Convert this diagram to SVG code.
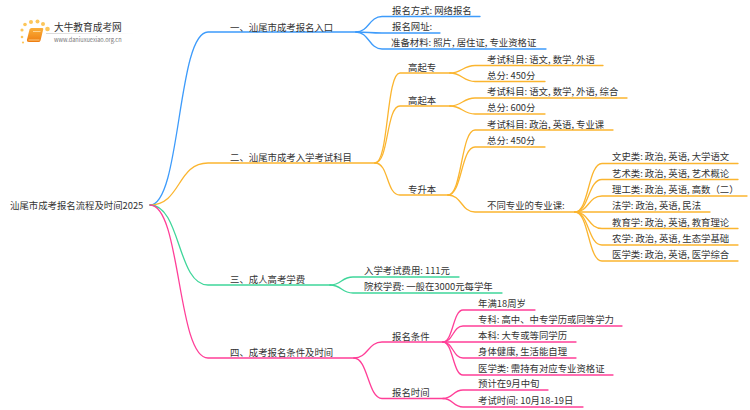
<svg xmlns="http://www.w3.org/2000/svg" width="750" height="410" viewBox="0 0 750 410">
<defs>
<linearGradient id="fade" x1="0" x2="1" y1="0" y2="0"><stop offset="0" stop-color="#d8d8d8"/><stop offset="1" stop-color="#d8d8d8" stop-opacity="0"/></linearGradient>
<linearGradient id="bookfill" x1="0" x2="0" y1="0" y2="1"><stop offset="0" stop-color="#fbb03a"/><stop offset="1" stop-color="#ee7d10"/></linearGradient>
</defs>
<style>
text{font-family:"Noto Sans CJK SC","Noto Sans",sans-serif;font-size:9.4px;fill:#333}
.c path{fill:none;stroke-width:1.3;stroke-linecap:round}
.b{stroke:#3d9bfb}.o{stroke:#fbb52f}.g{stroke:#3fd69a}.p{stroke:#ff3f98}
.dot{fill:#fcc65a}
</style>
<rect width="750" height="410" fill="#fff"/>
<g id="logo">
<circle class="dot" cx="22" cy="30" r="1.6"/><circle class="dot" cx="25" cy="24.5" r="1.8"/><circle class="dot" cx="31" cy="22" r="2"/><circle class="dot" cx="37.5" cy="21.5" r="2"/><circle class="dot" cx="43" cy="24" r="2"/><circle class="dot" cx="47.500" cy="29" r="2.3"/><circle class="dot" cx="22" cy="37" r="1.3"/><circle class="dot" cx="23" cy="42.500" r="1.1"/>
<path d="M31.500 28H42.500Q43.500 28 43.200 29.500L40.500 40.500Q40 42 38.500 42H29Q26.500 42 27 39.500L29.500 29.500Q30 28 31.500 28Z" fill="url(#bookfill)"/><path d="M28.500 40H39.500" stroke="#ffdca0" stroke-width="0.800"/><path d="M33 31.500H40.500" stroke="#ffe3ad" stroke-width="0.800"/>
<text x="54" y="31" style="font-size:9.7px">大牛教育成考网</text>
<rect x="46" y="33" width="88" height="1" fill="url(#fade)"/>
<text x="54" y="41.5" style="font-size:5.6px;fill:#777">www.daniuxuexiao.org.cn</text>
</g>
<g class="c" id="connectors">
<path class="b" d="M150 205C181 205 177 32 208 32H356"/>
<path class="b" d="M356 32C369 32 369 16.5 382 16.5H480"/>
<path class="b" d="M356 32C369 32 369 33 382 33H440"/>
<path class="b" d="M356 32C369 32 369 49 382 49H546"/>
<path class="o" d="M150 205C181 205 177 163 208 163H375"/>
<path class="o" d="M375 163C389 163 386 73 400 73H450"/>
<path class="o" d="M450 73C462 73 463 65.5 475 65.5H603"/>
<path class="o" d="M450 73C462 73 463 81.5 475 81.5H545"/>
<path class="o" d="M375 163C389 163 386 106 400 106H450"/>
<path class="o" d="M450 106C462 106 463 98 475 98H627"/>
<path class="o" d="M450 106C462 106 463 114 475 114H545"/>
<path class="o" d="M375 163C389 163 386 195 400 195H448"/>
<path class="o" d="M448 195C462 195 461 130 475 130H613"/>
<path class="o" d="M448 195C462 195 461 147 475 147H545"/>
<path class="o" d="M448 195C462 195 461 212 475 212H575"/>
<path class="o" d="M575 212C589 212 588 163.5 602 163.5H738"/>
<path class="o" d="M575 212C589 212 588 179.5 602 179.5H738"/>
<path class="o" d="M575 212C589 212 588 196 602 196H747"/>
<path class="o" d="M575 212C589 212 588 212 602 212H710"/>
<path class="o" d="M575 212C589 212 588 228.5 602 228.5H738"/>
<path class="o" d="M575 212C589 212 588 245 602 245H738"/>
<path class="o" d="M575 212C589 212 588 261 602 261H738"/>
<path class="g" d="M150 205C181 205 177 285 208 285H330"/>
<path class="g" d="M330 285C342 285 341 277 353 277H459"/>
<path class="g" d="M330 285C342 285 341 293 353 293H502"/>
<path class="p" d="M150 205C181 205 177 358 208 358H354"/>
<path class="p" d="M354 358C368 358 368 342 382 342H443"/>
<path class="p" d="M354 358C368 358 368 398.5 382 398.5H443"/>
<path class="p" d="M443 342C453 342 453 310 463 310H535"/>
<path class="p" d="M443 342C453 342 453 326 463 326H622"/>
<path class="p" d="M443 342C453 342 453 342 463 342H576"/>
<path class="p" d="M443 342C453 342 453 358 463 358H576"/>
<path class="p" d="M443 342C453 342 453 375 463 375H613"/>
<path class="p" d="M443 398.5C453 398.5 453 390 463 390H548"/>
<path class="p" d="M443 398.5C453 398.5 453 407 463 407H583"/>
</g>
<g id="root"><text x="10" y="208.5">汕尾市成考报名流程及时间2025</text></g>
<g id="n1"><text x="230" y="30.500">一、汕尾市成考报名入口</text></g>
<g id="n1-1"><text x="392" y="13.500">报名方式: 网络报名</text></g>
<g id="n1-2"><text x="392" y="30">报名网址:</text></g>
<g id="n1-3"><text x="391" y="46">准备材料: 照片, 居住证, 专业资格证</text></g>
<g id="n2"><text x="230" y="160.500">二、汕尾市成考入学考试科目</text></g>
<g id="n2-1"><text x="408" y="70.500">高起专</text></g>
<g id="n2-1-1"><text x="487" y="62.500">考试科目: 语文, 数学, 外语</text></g>
<g id="n2-1-2"><text x="487" y="78.500">总分: 450分</text></g>
<g id="n2-2"><text x="408" y="103.500">高起本</text></g>
<g id="n2-2-1"><text x="487" y="95">考试科目: 语文, 数学, 外语, 综合</text></g>
<g id="n2-2-2"><text x="487" y="111">总分: 600分</text></g>
<g id="n2-3"><text x="408" y="192.500">专升本</text></g>
<g id="n2-3-1"><text x="487" y="127.500">考试科目: 政治, 英语, 专业课</text></g>
<g id="n2-3-2"><text x="487" y="144">总分: 450分</text></g>
<g id="n2-3-3"><text x="487" y="209">不同专业的专业课:</text></g>
<g id="n2-3-3-1"><text x="612" y="160">文史类: 政治, 英语, 大学语文</text></g>
<g id="n2-3-3-2"><text x="612" y="176.500">艺术类: 政治, 英语, 艺术概论</text></g>
<g id="n2-3-3-3"><text x="612" y="193">理工类: 政治, 英语, 高数（二）</text></g>
<g id="n2-3-3-4"><text x="612" y="209">法学: 政治, 英语, 民法</text></g>
<g id="n2-3-3-5"><text x="612" y="225.500">教育学: 政治, 英语, 教育理论</text></g>
<g id="n2-3-3-6"><text x="612" y="242">农学: 政治, 英语, 生态学基础</text></g>
<g id="n2-3-3-7"><text x="612" y="258">医学类: 政治, 英语, 医学综合</text></g>
<g id="n3"><text x="230" y="282.500">三、成人高考学费</text></g>
<g id="n3-1"><text x="364" y="274">入学考试费用: 111元</text></g>
<g id="n3-2"><text x="364" y="290">院校学费: 一般在3000元每学年</text></g>
<g id="n4"><text x="230" y="355.500">四、成考报名条件及时间</text></g>
<g id="n4-1"><text x="392" y="339.500">报名条件</text></g>
<g id="n4-1-1"><text x="478" y="307">年满18周岁</text></g>
<g id="n4-1-2"><text x="478" y="323">专科: 高中、中专学历或同等学力</text></g>
<g id="n4-1-3"><text x="478" y="339">本科: 大专或等同学历</text></g>
<g id="n4-1-4"><text x="478" y="355">身体健康, 生活能自理</text></g>
<g id="n4-1-5"><text x="478" y="372">医学类: 需持有对应专业资格证</text></g>
<g id="n4-2"><text x="392" y="396">报名时间</text></g>
<g id="n4-2-1"><text x="478" y="387">预计在9月中旬</text></g>
<g id="n4-2-2"><text x="478" y="404">考试时间: 10月18-19日</text></g>
</svg>
